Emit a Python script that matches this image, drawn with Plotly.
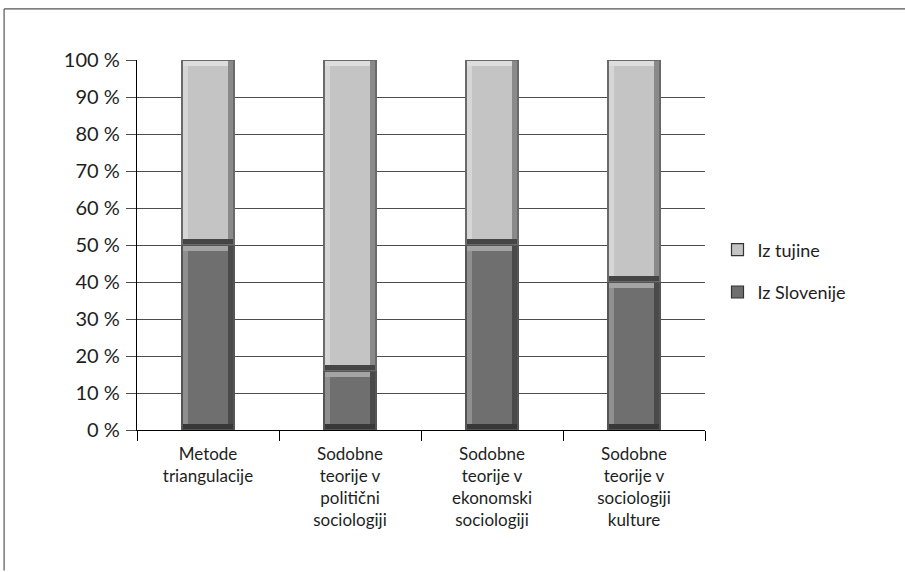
import plotly.graph_objects as go

# Categories and shares (%)
categories = [
    "Metode<br>triangulacije",
    "Sodobne<br>teorije v<br>politični<br>sociologiji",
    "Sodobne<br>teorije v<br>ekonomski<br>sociologiji",
    "Sodobne<br>teorije v<br>sociologiji<br>kulture",
]
iz_slovenije = [50, 16, 50, 40]
iz_tujine = [50, 84, 50, 60]
y_ticks = [0, 10, 20, 30, 40, 50, 60, 70, 80, 90, 100]
y_tick_labels = [f"{v} %" for v in y_ticks]

# Bevel styling: face colour plus outline and edge shades
series = [
    dict(name="Iz Slovenije", values=iz_slovenije, outline="#555555",
         face="#6f6f70", bottom="#383838", right="#4a4a4a", top="#a4a4a4", left="#8f8f8f"),
    dict(name="Iz tujine", values=iz_tujine, outline="#6a6a6a",
         face="#c4c4c4", bottom="#454545", right="#8a8a8a", top="#dedede", left="#d6d6d6"),
]

BAR_W = 0.375
OX = 0.008   # outline thickness, category units
OY = 0.3     # outline thickness, percent units
BX = 0.036   # bevel thickness, category units
BY = 1.35    # bevel thickness, percent units
FONT = "Lato"

fig = go.Figure()

bases = [0] * len(categories)
for s in series:
    vals = s["values"]
    b0 = list(bases)
    x0 = -BAR_W / 2
    xi = x0 + OX                 # inside outline
    wi = BAR_W - 2 * OX
    layers = [
        # (colour, x offset, width, base shift, height shrink)
        (s["outline"], x0, BAR_W, 0, 0),
        (s["bottom"], xi, wi, OY, 2 * OY),
        (s["right"], xi, wi, OY + BY, 2 * OY + BY),
        (s["top"], xi, wi - BX, OY + BY, 2 * OY + BY),
        (s["left"], xi, wi - BX, OY + BY, 2 * OY + 2 * BY),
        (s["face"], xi + BX, wi - 2 * BX, OY + BY, 2 * OY + 2 * BY),
    ]
    for col, o, w, bshift, hshrink in layers:
        fig.add_trace(go.Bar(
            x=categories,
            y=[v - hshrink for v in vals],
            base=[b + bshift for b in b0],
            width=w,
            offset=o,
            marker=dict(color=col, line=dict(width=0)),
            name=s["name"],
            showlegend=False,
            hoverinfo="skip",
        ))
    bases = [b + v for b, v in zip(bases, vals)]

# Legend entries (light series listed first)
for s, rank in ((series[1], 1), (series[0], 2)):
    fig.add_trace(go.Bar(
        x=[categories[0]], y=[None],
        name=s["name"],
        legendgroup=s["name"],
        marker=dict(color=s["face"], line=dict(color="#333333", width=1.2)),
        legendrank=rank,
        showlegend=True,
    ))

fig.update_layout(
    barmode="overlay",
    width=905, height=572,
    margin=dict(l=137, r=200, t=60, b=142),
    paper_bgcolor="white",
    plot_bgcolor="white",
    font=dict(family=FONT, color="#1e1e1e", size=17),
    legend=dict(
        x=1.022, y=0.43, xanchor="left", yanchor="middle",
        font=dict(family=FONT, size=18, color="#1e1e1e"),
        tracegroupgap=16, traceorder="grouped",
        bgcolor="rgba(0,0,0,0)",
    ),
    bargap=0,
)

fig.update_yaxes(
    range=[0, 100],
    tickvals=y_ticks, ticktext=y_tick_labels,
    tickfont=dict(family=FONT, size=20, color="#1e1e1e"),
    showgrid=True, gridcolor="#4d4d4d", gridwidth=1.4,
    showline=True, linecolor="#000000", linewidth=1.4,
    ticks="outside", ticklen=10, tickcolor="#4d4d4d", tickwidth=1.4,
    ticklabelstandoff=2,
    zeroline=False,
    fixedrange=True,
)
fig.update_xaxes(
    tickfont=dict(family=FONT, size=17, color="#1e1e1e"),
    showline=True, linecolor="#000000", linewidth=1.4,
    ticks="outside", tickson="boundaries", ticklen=10,
    tickcolor="#000000", tickwidth=1.2,
    ticklabelstandoff=8,
    showgrid=False,
    fixedrange=True,
)

# Outer frame: top and left rules
fig.add_shape(type="line", xref="paper", yref="paper",
              x0=-0.234, x1=1.36, y0=1.138, y1=1.138,
              line=dict(color="#555555", width=1.2))
fig.add_shape(type="line", xref="paper", yref="paper",
              x0=-0.234, x1=-0.234, y0=1.138, y1=-0.38,
              line=dict(color="#555555", width=1.2))

fig.write_html("out.html")
